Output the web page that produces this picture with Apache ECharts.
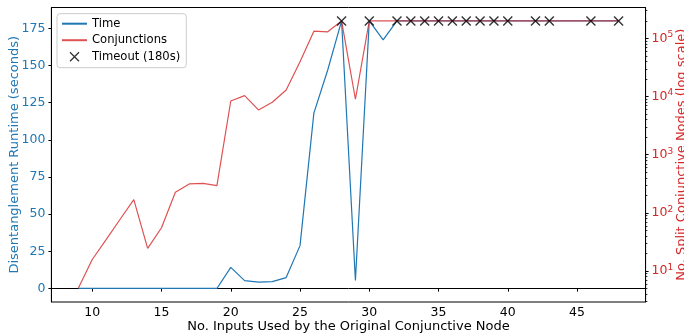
<!DOCTYPE html>
<html>
<head>
<meta charset="utf-8">
<script src="https://cdn.jsdelivr.net/npm/echarts@6/dist/echarts.min.js"></script>
<style>html,body{margin:0;padding:0;background:#fff}#c{width:684px;height:333px}</style>
</head>
<body>
<div id="c"></div>
<script>
// ---- data ----
var inputs = [9,10,11,12,13,14,15,16,17,18,19,20,21,22,23,24,25,26,27,28,29,30,31,32,33,34,35,36,37,38,39,40,42,43,46,48];
var timeSec = [0.1,0.1,0.1,0.1,0.1,0.1,0.1,0.1,0.1,0.1,0.1,14.3,5.4,4.3,4.7,7.4,28.9,118,147,180,5.4,180,167.3,180,180,180,180,180,180,180,180,180,180,180,180,180];
var conjunctions = [5.1,15.8,34.8,77,169,24.5,55.5,226,315,322,294,8400,10400,5900,8000,13000,39700,133000,130000,200000,9000,200000,200000,200000,200000,200000,200000,200000,200000,200000,200000,200000,200000,200000,200000,200000];
var timeoutInputs = [28,30,32,33,34,35,36,37,38,39,40,42,43,46,48];
var timeoutValue = 180;
var xTicks = [10,15,20,25,30,35,40,45];
var leftTicks = [0,25,50,75,100,125,150,175];
var rightTicks = [10,100,1000,10000,100000];

var minorTicks = [];
for (var n = 0; n <= 5; n++) for (var k = 2; k <= 9; k++) {
  var v = k * Math.pow(10, n);
  if (v >= 2.94 && v <= 3.4e5) minorTicks.push(v);
}

function pairs(xs, ys) { return xs.map(function (x, i) { return [x, ys[i]]; }); }

var FONT = 'DejaVu Sans';
var FS = 13, TFS = 12.5, LFS = 11.6;
var BLUE = '#1f77b4', RED = '#d62728';
var XPATH = 'path://M0,0L10,10M10,0L0,10';

var chart = echarts.init(document.getElementById('c'), null, {renderer: 'canvas'});
chart.setOption({
  animation: false,
  textStyle: {fontFamily: FONT},
  grid: {left: 51.4, right: 38.4, top: 7.5, bottom: 31, show: true, borderColor: '#000', borderWidth: 1,
         containLabel: false, outerBoundsMode: 'none'},
  legend: {
    orient: 'vertical', left: 57, top: 13.7,
    padding: [4, 6, 5, 4],
    itemWidth: 25, itemHeight: 9, itemGap: 4.5,
    backgroundColor: 'rgba(255,255,255,0.8)', borderColor: '#cccccc', borderWidth: 1, borderRadius: 3,
    textStyle: {fontFamily: FONT, fontSize: LFS, color: '#000', lineHeight: 12},
    data: [
      {name: 'Time', itemStyle: {opacity: 0}},
      {name: 'Conjunctions', itemStyle: {opacity: 0}},
      {name: 'Timeout (180s)', icon: XPATH, itemStyle: {color: 'rgba(0,0,0,0)', borderColor: '#000', borderWidth: 1.3}}
    ]
  },
  xAxis: {
    type: 'value', min: 7.05, max: 49.95,
    name: 'No. Inputs Used by the Original Conjunctive Node', nameLocation: 'middle', nameGap: 18.5,
    nameMoveOverlap: false,
    nameTextStyle: {fontFamily: FONT, fontSize: FS, color: '#000'},
    axisLine: {show: true, lineStyle: {color: '#000', width: 1}},
    axisTick: {show: true, length: 3, lineStyle: {color: '#000'}, customValues: xTicks},
    axisLabel: {fontFamily: FONT, fontSize: TFS, color: '#000', margin: 4, customValues: xTicks},
    splitLine: {show: false}
  },
  yAxis: [{
    type: 'value', min: -9, max: 189, position: 'left',
    name: 'Disentanglement Runtime (seconds)', nameLocation: 'middle', nameGap: 30, nameRotate: 90,
    nameMoveOverlap: false,
    nameTextStyle: {fontFamily: FONT, fontSize: FS, color: BLUE},
    axisLine: {show: true, lineStyle: {color: '#000', width: 1}},
    axisTick: {show: true, length: 3, lineStyle: {color: '#000'}, customValues: leftTicks},
    axisLabel: {fontFamily: FONT, fontSize: TFS, color: BLUE, margin: 6, customValues: leftTicks},
    splitLine: {show: false}
  }, {
    type: 'log', logBase: 10, min: 2.94, max: 3.4e5, position: 'right',
    name: 'No. Split Conjunctive Nodes (log scale)', nameLocation: 'middle', nameGap: 30, nameRotate: 90,
    nameMoveOverlap: false,
    nameTextStyle: {fontFamily: FONT, fontSize: FS, color: RED},
    axisLine: {show: true, lineStyle: {color: '#000', width: 1}},
    axisTick: {show: true, length: 3, lineStyle: {color: '#000'}, customValues: rightTicks},
    axisLabel: {
      fontFamily: FONT, fontSize: TFS, color: RED, margin: 6, customValues: rightTicks,
      formatter: function (v) { return '10{s|' + Math.round(Math.log10(v)) + '}'; },
      rich: {s: {fontFamily: FONT, fontSize: 9, color: RED, verticalAlign: 'top', padding: [0, 0, 7, 0]}}
    },
    splitLine: {show: false}
  }, {
    type: 'log', logBase: 10, min: 2.94, max: 3.4e5, position: 'right',
    axisLine: {show: false},
    axisTick: {show: true, length: 1.8, lineStyle: {color: '#000', width: 0.8}, customValues: minorTicks},
    axisLabel: {show: false},
    splitLine: {show: false}
  }],
  series: [{
    name: 'Time', type: 'line', yAxisIndex: 0, data: pairs(inputs, timeSec),
    symbol: 'none', lineStyle: {color: BLUE, width: 1.2}, itemStyle: {color: BLUE}, z: 2
  }, {
    name: 'Conjunctions', type: 'line', yAxisIndex: 1, data: pairs(inputs, conjunctions),
    symbol: 'none', lineStyle: {color: RED, width: 1.2, opacity: 0.8}, itemStyle: {color: RED}, z: 3
  }, {
    name: 'Timeout (180s)', type: 'scatter', yAxisIndex: 0,
    data: timeoutInputs.map(function (x) { return [x, timeoutValue]; }),
    symbol: XPATH, symbolSize: 9,
    itemStyle: {color: 'rgba(0,0,0,0)', borderColor: '#000', borderWidth: 1.4}, z: 5
  }]
});
</script>
</body>
</html>
